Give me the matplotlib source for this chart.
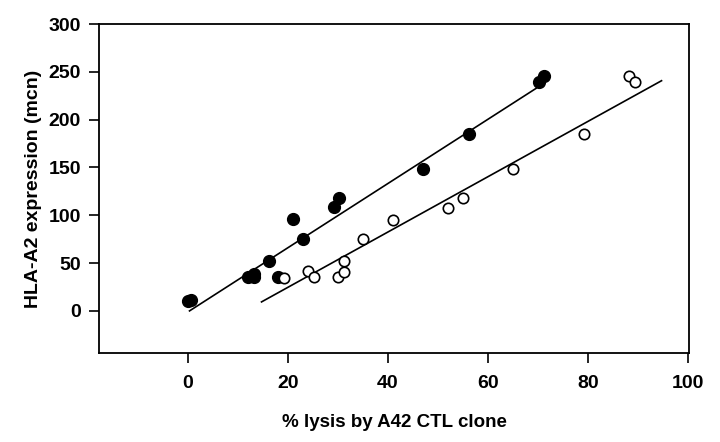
import matplotlib.pyplot as plt

plt.rcParams['font.family'] = ['Liberation Sans', 'DejaVu Sans']
plt.rcParams['font.weight'] = 'bold'

# filled circles
lysis_filled = [0, 0.5, 11.9, 13.1, 13.1, 16.1, 18, 21, 23, 29.1, 30.1, 47, 56.2, 70.2, 71.2]
hla_filled = [10, 11, 35.6, 39.1, 35.3, 52, 35.6, 96, 74.7, 108.2, 118.2, 148, 184.6, 239.6, 245.9]

# open circles
lysis_open = [19.1, 24, 25.1, 29.9, 31.1, 31.1, 35, 41, 52, 55, 65, 79.2, 88.2, 89.3]
hla_open = [34.5, 41.9, 35.6, 35.6, 40.2, 52.3, 74.7, 94.9, 107.8, 118.2, 148, 184.6, 245.9, 239]

# regression lines (end points)
fit_filled_x = [0.3, 69.7]
fit_filled_y = [0, 233]
fit_open_x = [14.7, 94.7]
fit_open_y = [9.4, 240.7]

fig = plt.figure(figsize=(7.2, 4.42), dpi=100)
ax = fig.add_axes([0.1375, 0.2014, 0.957 - 0.1375, 0.9457 - 0.2014])

ax.plot(fit_filled_x, fit_filled_y, color='black', lw=1.2)
ax.plot(fit_open_x, fit_open_y, color='black', lw=1.2)
ax.plot(lysis_filled, hla_filled, 'o', color='black', ms=8.5, zorder=3)
ax.plot(lysis_open, hla_open, 'o', mfc='white', mec='black', mew=1.2, ms=7.5, zorder=3)

ax.set_xlim(-17.8, 100.2)
ax.set_ylim(-44, 300)
ax.set_xticks([0, 20, 40, 60, 80, 100])
ax.set_yticks([0, 50, 100, 150, 200, 250, 300])
ax.tick_params(direction='out', length=7, width=1.2, labelsize=14, pad=6)
ax.tick_params(axis='x', pad=9)
for s in ax.spines.values():
    s.set_linewidth(1.3)

ax.set_xlabel('% lysis by A42 CTL clone', fontsize=13.5, fontweight='bold', labelpad=15.5)
ax.set_ylabel('HLA-A2 expression (mcn)', fontsize=14, fontweight='bold', labelpad=5)

fig.savefig('out.png', dpi=100)
